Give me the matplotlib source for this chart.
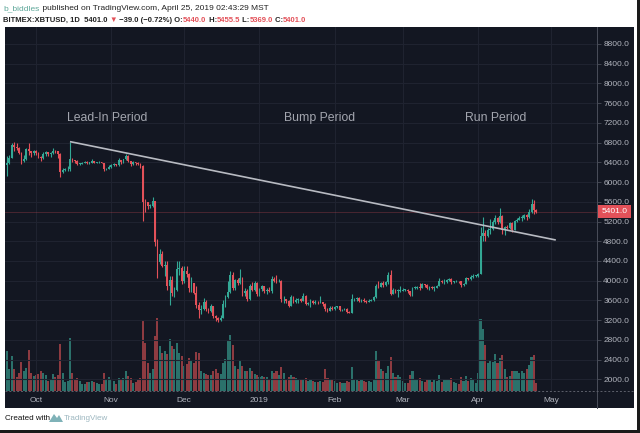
import matplotlib
matplotlib.use("Agg")
import matplotlib.pyplot as plt
import matplotlib.dates as mdates
import matplotlib.transforms as mtransforms
from matplotlib.patches import Rectangle, Polygon
from matplotlib.lines import Line2D
from matplotlib.font_manager import FontProperties
from matplotlib.ticker import FuncFormatter, FormatStrFormatter
import numpy as np
import pandas as pd

plt.rcParams['font.family'] = ['Liberation Sans', 'DejaVu Sans']

# ---------------- data (BITMEX:XBTUSD daily) ----------------
start_date = "2018-09-19"
first_open = 6340.0

close = (
    [6390, 6490, 6760, 6710, 6700, 6590, 6430, 6460, 6670, 6630, 6580, 6620]  # Sep 19-30
    + [6580, 6510, 6480, 6560, 6600, 6560, 6590, 6640, 6620, 6560,
       6210, 6250, 6260, 6260, 6460, 6440, 6420, 6370, 6370, 6390,
       6400, 6390, 6390, 6420, 6390, 6400, 6400, 6390, 6260, 6270, 6300]  # Oct
    + [6340, 6360, 6340, 6440, 6400, 6460, 6530, 6420, 6360, 6400,
       6390, 6370, 6320, 5600, 5590, 5520, 5520, 5620, 4780, 4380,
       4550, 4300, 4310, 3900, 4010, 3750, 3820, 4230, 4250, 3990]  # Nov
    + [4200, 4140, 3850, 3950, 3750, 3500, 3400, 3420, 3560, 3420,
       3380, 3480, 3280, 3240, 3210, 3250, 3530, 3670, 3770, 4110,
       3850, 4020, 3960, 4050, 3760, 3800, 3620, 3900, 3820, 3960, 3720]  # Dec
    + [3830, 3890, 3790, 3820, 3800, 4040, 4000, 3990, 4000, 3620,
       3620, 3590, 3480, 3660, 3560, 3600, 3630, 3590, 3680, 3520,
       3540, 3580, 3550, 3570, 3560, 3560, 3530, 3430, 3390, 3450, 3430]  # Jan
    + [3460, 3480, 3400, 3410, 3430, 3360, 3350, 3620, 3620, 3650,
       3590, 3600, 3580, 3560, 3580, 3600, 3660, 3890, 3880, 3960,
       3910, 3970, 4120, 3740, 3820, 3790, 3800, 3800]  # Feb
    + [3820, 3820, 3790, 3700, 3850, 3860, 3870, 3860, 3930, 3910,
       3860, 3880, 3860, 3860, 3900, 4000, 3970, 3980, 4020, 4040,
       3970, 3990, 4000, 3990, 3910, 3940, 4050, 4030, 4080, 4100, 4100]  # Mar
    + [4140, 4900, 4960, 4900, 5030, 5050, 5180, 5280, 5180, 5320,
       5030, 5080, 5070, 5160, 5030, 5220, 5240, 5280, 5280, 5330,
       5300, 5400, 5550, 5440, 5401.0]  # Apr 1-25
)

high = (
    [6520, 6540, 6800, 6820, 6790, 6720, 6600, 6540, 6700, 6800, 6640, 6650]
    + [6650, 6600, 6530, 6600, 6630, 6610, 6610, 6690, 6650, 6630,
       6580, 6280, 6280, 6330, 6820, 6480, 6450, 6440, 6390, 6400,
       6420, 6420, 6400, 6460, 6430, 6410, 6420, 6400, 6390, 6290, 6340]
    + [6360, 6380, 6370, 6480, 6450, 6470, 6560, 6540, 6430, 6420,
       6410, 6410, 6380, 6340, 5650, 5600, 5560, 5700, 5620, 4850,
       4650, 4600, 4400, 4400, 4100, 4100, 3880, 4400, 4400, 4300]
    + [4300, 4300, 4160, 4080, 3960, 3900, 3560, 3500, 3650, 3600,
       3450, 3530, 3480, 3300, 3260, 3310, 3600, 3700, 4000, 4200,
       4180, 4030, 4050, 4230, 4080, 3850, 3830, 3930, 3980, 3990, 3970]
    + [3850, 3920, 3900, 3850, 3880, 4100, 4080, 4120, 4040, 4020,
       3680, 3630, 3600, 3700, 3680, 3650, 3650, 3640, 3750, 3700,
       3570, 3620, 3610, 3600, 3580, 3680, 3570, 3540, 3440, 3480, 3480]
    + [3490, 3490, 3490, 3430, 3450, 3440, 3380, 3720, 3650, 3660,
       3660, 3630, 3640, 3600, 3630, 3630, 3680, 3930, 3990, 3980,
       3990, 3990, 4170, 4210, 3860, 3830, 3840, 3900]
    + [3860, 3840, 3830, 3800, 3880, 3900, 3900, 3950, 3960, 3930,
       3930, 3900, 3890, 3900, 3920, 4060, 4010, 4030, 4040, 4060,
       4060, 4000, 4010, 4000, 4000, 3950, 4070, 4060, 4110, 4130, 4110]
    + [4160, 5080, 5300, 5030, 5060, 5250, 5230, 5340, 5290, 5470,
       5340, 5110, 5120, 5180, 5190, 5230, 5280, 5310, 5340, 5350,
       5350, 5450, 5650, 5640, 5455.5]
)

low = (
    [6130, 6370, 6480, 6630, 6650, 6570, 6360, 6400, 6440, 6550, 6500, 6540]
    + [6540, 6490, 6420, 6470, 6520, 6530, 6510, 6570, 6590, 6480,
       6100, 6190, 6230, 6230, 6220, 6410, 6380, 6340, 6340, 6360,
       6380, 6370, 6360, 6380, 6380, 6380, 6390, 6380, 6220, 6240, 6270]
    + [6290, 6330, 6320, 6330, 6370, 6380, 6450, 6400, 6330, 6350,
       6340, 6350, 6290, 5220, 5400, 5460, 5480, 5500, 4700, 4050,
       4330, 4270, 4100, 3820, 3500, 3680, 3670, 3800, 4120, 3930]
    + [3960, 4080, 3780, 3780, 3730, 3450, 3250, 3320, 3400, 3380,
       3340, 3360, 3250, 3180, 3160, 3190, 3240, 3470, 3640, 3760,
       3810, 3810, 3920, 3940, 3680, 3690, 3580, 3610, 3800, 3800, 3680]
    + [3680, 3800, 3760, 3740, 3780, 3760, 3980, 3950, 3980, 3560,
       3550, 3550, 3460, 3480, 3540, 3550, 3550, 3560, 3580, 3500,
       3510, 3460, 3530, 3530, 3520, 3550, 3480, 3380, 3360, 3380, 3410]
    + [3400, 3440, 3380, 3390, 3400, 3340, 3340, 3340, 3590, 3590,
       3570, 3560, 3560, 3540, 3560, 3580, 3580, 3650, 3860, 3870,
       3880, 3900, 3940, 3700, 3730, 3760, 3660, 3780]
    + [3800, 3790, 3760, 3680, 3690, 3830, 3840, 3820, 3850, 3870,
       3840, 3820, 3840, 3800, 3850, 3890, 3950, 3940, 3960, 3990,
       3930, 3960, 3970, 3960, 3870, 3900, 3930, 4010, 4020, 4050, 4080]
    + [4080, 4130, 4800, 4800, 4880, 4950, 5030, 5150, 5140, 5160,
       4950, 4930, 5040, 5040, 4990, 5020, 5180, 5230, 5210, 5260,
       5240, 5270, 5380, 5360, 5369.0]
)

# relative volume
volume = (
    [40, 22, 35, 22, 14, 18, 29, 20, 23, 41, 18, 15]
    + [16, 17, 20, 18, 16, 10, 11, 17, 14, 16,
       47, 18, 9, 10, 53, 18, 12, 13, 10, 7,
       7, 9, 9, 10, 9, 8, 7, 7, 18, 12, 14]
    + [12, 10, 7, 13, 11, 13, 20, 15, 13, 8,
       9, 11, 13, 70, 48, 28, 18, 22, 55, 73,
       45, 38, 40, 37, 52, 45, 42, 48, 38, 35]
    + [25, 27, 33, 30, 28, 39, 38, 20, 18, 17,
       16, 16, 20, 22, 18, 17, 28, 32, 51, 56,
       46, 25, 22, 30, 25, 20, 20, 23, 20, 17, 16]
    + [14, 15, 14, 14, 12, 20, 18, 20, 16, 24,
       18, 12, 14, 16, 14, 13, 12, 11, 12, 13,
       10, 12, 10, 9, 9, 10, 9, 22, 13, 12, 11]
    + [10, 8, 9, 8, 8, 10, 9, 24, 12, 11,
       10, 11, 10, 9, 10, 9, 12, 40, 30, 22,
       20, 18, 25, 34, 18, 14, 16, 14]
    + [10, 8, 8, 16, 20, 12, 11, 13, 10, 9,
       12, 11, 9, 11, 10, 16, 9, 12, 12, 11,
       13, 9, 8, 7, 14, 10, 15, 10, 13, 12, 8]
    + [18, 72, 62, 46, 28, 30, 29, 37, 28, 33,
       36, 22, 14, 15, 20, 20, 20, 18, 20, 18,
       22, 26, 34, 36, 8]
)

trend_dates = ["2018-10-15", "2019-05-03"]
trend_prices = [6820, 4825]

period_labels = ["Lead-In Period", "Bump Period", "Run Period"]
price_ticks = list(range(2000, 8801, 400))

publisher = "b_biddles"
published = "April 25, 2019 02:43:29 MST"
symbol = "BITMEX:XBTUSD"
interval = "1D"

# ---------------- style ----------------
BG = "#131722"
GRID = "#1f2330"
AXIS = "#4a4e5a"
TXT = "#b2b5be"
UP = "#33a895"
DOWN = "#e35159"
UP_V = "#2b716b"
DOWN_V = "#8e3b41"

W, H = 640, 433
fig = plt.figure(figsize=(6.4, 4.33), dpi=100, facecolor="white")

def fx(px):
    return px / W

def fy(py):
    return 1 - py / H

# dark chart panel + outer border
fig.add_artist(Rectangle((fx(4.5), fy(408)), fx(634) - fx(4.5), fy(27) - fy(408),
                         transform=fig.transFigure, facecolor=BG, edgecolor="none", zorder=0))
fig.add_artist(Rectangle((fx(637), 0), fx(640) - fx(637), 1, transform=fig.transFigure,
                         facecolor="#1a1a1a", edgecolor="none", zorder=0))
fig.add_artist(Rectangle((0, 0), 1, fy(430), transform=fig.transFigure,
                         facecolor="#1a1a1a", edgecolor="none", zorder=0))

L, R, T, B = 5, 597, 27, 390.7
rect = [fx(L), fy(B), fx(R) - fx(L), fy(T) - fy(B)]
ax_v = fig.add_axes(rect)
ax = fig.add_axes(rect)
ax_v.set_zorder(1)
ax.set_zorder(2)
for a in (ax, ax_v):
    a.patch.set_visible(False)
    for s in a.spines.values():
        s.set_visible(False)

dates = pd.date_range(start_date, periods=len(close), freq="D")
xd = mdates.date2num(dates)
c = np.array(close, dtype=float)
o = np.concatenate([[first_open], c[:-1]])
h = np.maximum(np.array(high, dtype=float), np.maximum(o, c))
l = np.minimum(np.array(low, dtype=float), np.minimum(o, c))
v = np.array(volume, dtype=float)
up = c >= o
cols = np.where(up, UP, DOWN)
vcols = np.where(up, UP_V, DOWN_V)

oct1 = mdates.date2num(pd.Timestamp("2018-10-01"))
day_px = 2.429
xlim = (oct1 - (36 - L) / day_px, oct1 + (R - 36) / day_px)
px_per_usd = 335.3 / 6800.0
ylim = (2000 - (B - 379.3) / px_per_usd, 8800 + (44 - T) / px_per_usd)

# volume
ax_v.bar(xd, v, width=0.85, color=vcols, linewidth=0)
ax_v.set_xlim(*xlim)
ax_v.set_ylim(0, B - T)
ax_v.set_xticks([])
ax_v.set_yticks([])

# candles
ax.set_axisbelow(True)
ax.vlines(xd, l, h, colors=cols, linewidth=0.8, zorder=3)
body = np.maximum(np.abs(c - o), 12)
ax.bar(xd, body, bottom=np.minimum(o, c), width=0.74, color=cols, linewidth=0, zorder=4)

# trend line
tx = mdates.date2num(pd.to_datetime(trend_dates))
ax.plot(tx, trend_prices, color="#b8bbc2", linewidth=1.2, zorder=5, solid_capstyle="butt")

# current price line
ax.axhline(c[-1], color=DOWN, linewidth=0.6, alpha=0.3, zorder=2)

ax.set_xlim(*xlim)
ax.set_ylim(*ylim)
ax.grid(True, color=GRID, linewidth=0.8)

ax.xaxis.set_major_locator(mdates.MonthLocator())
ax.xaxis.set_major_formatter(FuncFormatter(
    lambda x, pos: "2019" if mdates.num2date(x).month == 1 else mdates.num2date(x).strftime("%b")))
ax.tick_params(axis="x", length=0, pad=4.5, labelsize=6, labelcolor=TXT)
ax.yaxis.tick_right()
ax.set_yticks(price_ticks)
ax.yaxis.set_major_formatter(FormatStrFormatter("%.1f"))
ax.tick_params(axis="y", length=3, width=0.6, color=AXIS, pad=1.5, labelsize=6, labelcolor=TXT)

# last price tag
blend = mtransforms.blended_transform_factory(ax.transAxes, ax.transData)
ax.text(1.0 + 4.5 / (R - L), c[-1], f"{c[-1]:.1f}", transform=blend, ha="left", va="center",
        fontsize=6, color="white", zorder=10, clip_on=False,
        bbox=dict(boxstyle="square,pad=0.4", facecolor=DOWN, edgecolor="none"))

# period labels
for lab, xp in zip(period_labels, [0.172, 0.532, 0.829]):
    ax.text(xp, 0.75, lab, transform=ax.transAxes, ha="center", va="center",
            fontsize=8.8, color="#a3a6af")

# axis separators
fig.add_artist(Line2D([fx(R), fx(R)], [fy(T), fy(408)], transform=fig.transFigure,
                      color=AXIS, linewidth=0.7))
fig.add_artist(Line2D([fx(L), fx(634)], [fy(B), fy(B)], transform=fig.transFigure,
                      color="#5d606b", linewidth=0.7, linestyle=(0, (2, 2))))

# header text
renderer = fig.canvas.get_renderer()

def text_w(s, size, weight):
    fp = FontProperties(family=['Liberation Sans', 'DejaVu Sans'], size=size, weight=weight)
    w1 = renderer.get_text_width_height_descent(s + "|", fp, ismath=False)[0]
    w0 = renderer.get_text_width_height_descent("|", fp, ismath=False)[0]
    return w1 - w0

def place(x_px, y_px, pieces, target_w):
    tot = sum(text_w(s, 10, wt) for s, _, wt in pieces)
    size = 10 * target_w / tot
    x = x_px
    for s, col, wt in pieces:
        fig.text(fx(x), fy(y_px), s, fontsize=size, color=col, fontweight=wt,
                 ha="left", va="center")
        x += text_w(s, size, wt)

DARK = "#222222"
chg = c[-1] - c[-2]
pct = chg / c[-2] * 100
line1 = [(publisher, "#5fa89a", "normal"),
         (f" published on TradingView.com, {published}", DARK, "normal")]
line2 = [(f"{symbol}, {interval}  {c[-1]:.1f} ", DARK, "bold"),
         ("\u25bc", DOWN, "bold"),
         (f" \u2212{abs(chg):.1f} (\u2212{abs(pct):.2f}%) O:", DARK, "bold"),
         (f"{o[-1]:.1f}", DOWN, "bold"),
         (" H:", DARK, "bold"),
         (f"{h[-1]:.1f}", DOWN, "bold"),
         (" L:", DARK, "bold"),
         (f"{l[-1]:.1f}", DOWN, "bold"),
         (" C:", DARK, "bold"),
         (f"{c[-1]:.1f}", DOWN, "bold")]
place(3.3, 9, line1, 262)
place(3.3, 20.5, line2, 302)

# footer
fig.text(fx(5), fy(418), "Created with", fontsize=5.8, color="#111111", ha="left", va="center")
fig.add_artist(Polygon([(fx(49), fy(422)), (fx(54), fy(414)), (fx(57), fy(418)),
                        (fx(59), fy(415)), (fx(63), fy(422))],
                       closed=True, transform=fig.transFigure, facecolor="#7fb2b8",
                       edgecolor="none"))
fig.text(fx(64), fy(418), "TradingView", fontsize=5.8, color="#9db7c0", ha="left", va="center")

fig.savefig("out.png", dpi=100, facecolor="white")
